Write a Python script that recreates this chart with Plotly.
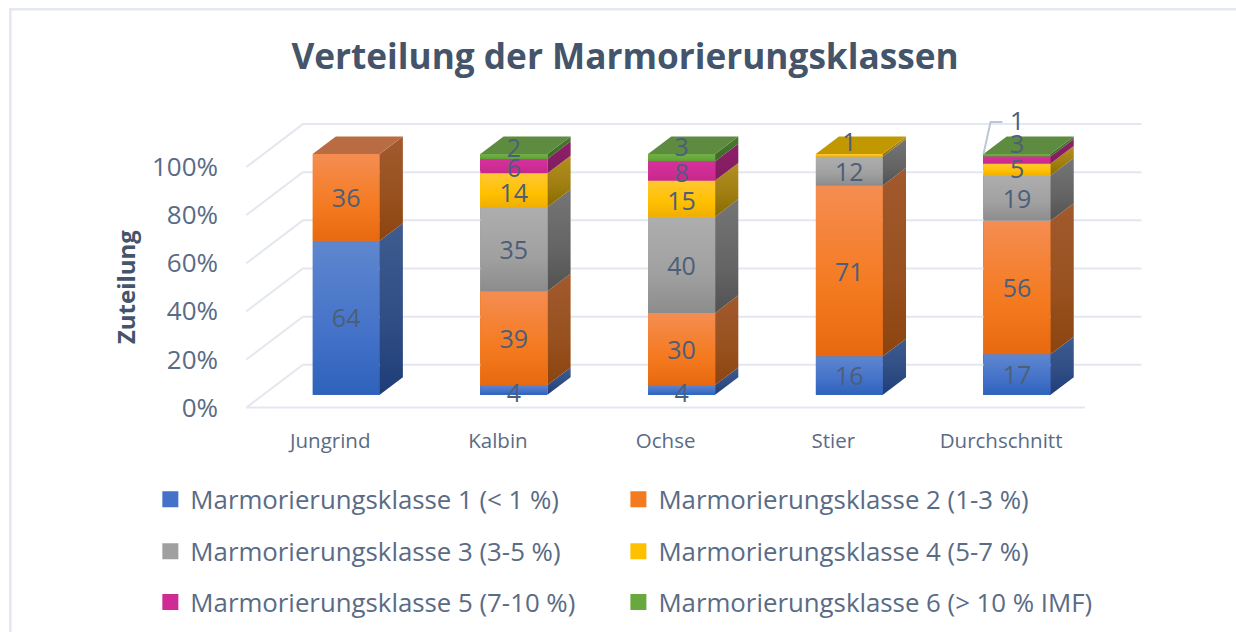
import plotly.graph_objects as go

# ---------- data ----------
categories = ["Jungrind", "Kalbin", "Ochse", "Stier", "Durchschnitt"]
series_names = [
    "Marmorierungsklasse 1 (< 1 %)",
    "Marmorierungsklasse 2 (1-3 %)",
    "Marmorierungsklasse 3 (3-5 %)",
    "Marmorierungsklasse 4 (5-7 %)",
    "Marmorierungsklasse 5 (7-10 %)",
    "Marmorierungsklasse 6 (> 10 % IMF)",
]
klasse1 = [64, 4, 4, 16, 17]
klasse2 = [36, 39, 30, 71, 56]
klasse3 = [0, 35, 40, 12, 19]
klasse4 = [0, 14, 15, 1, 5]
klasse5 = [0, 6, 8, 0, 3]
klasse6 = [0, 2, 3, 0, 1]
y_ticks = [0, 20, 40, 60, 80, 100]
y_tick_labels = ["0%", "20%", "40%", "60%", "80%", "100%"]

series = [klasse1, klasse2, klasse3, klasse4, klasse5, klasse6]

# ---------- styles ----------
W, H = 1236, 632
PX_X, PX_Y = 167.7, 2.41       # pixels per category / per percent
X0_PX, Y0_PX = 246.0, 408.0    # pixel position of the front floor corner
XR = [-0.52, 4.87]
YR = [-1.0, 122.0]
ML = X0_PX + (XR[0] + 0.5) * PX_X
MR = W - (X0_PX + (XR[1] + 0.5) * PX_X)
MB = H - Y0_PX + YR[0] * PX_Y
MT = Y0_PX - YR[1] * PX_Y
TXT = "#44546A"
LBL = "#4D5E78"
SOFT = "#5A6B85"
GRID = "#E3E7EF"
FONT = "Open Sans"
front_cols = [("#5F87CF", "#4472C9", "#2E62BB"), ("#F58D52", "#F47A20", "#E8690F"),
              ("#AEAEAE", "#A0A0A0", "#8C8C8C"), ("#FFC833", "#FFC000", "#F0AE00"),
              ("#D6309C", "#CE2C94", "#C7288D"), ("#70B043", "#68A83C", "#5E9F35")]
side_cols = [("#3F5C90", "#2F4C84", "#1E3D78"), ("#A25A2E", "#97501E", "#8C440F"),
             ("#757575", "#646464", "#525252"), ("#B48F22", "#9F7D10", "#886A00"),
             ("#8E2069", "#861E63", "#7F1C5E"), ("#47772F", "#41702B", "#3B6827")]
top_cols = ["#3F5F98", "#B96B41", "#8A8A8A", "#C29800", "#A0207A", "#5D8B3F"]

# projection of the pseudo-3D box: depth 1 = back wall
DX, DY = 0.337, 17.8
D_FRONT, D_BACK = 0.30, 0.71
BAR_W = 0.40
BAR_SHIFT = -0.006
LABEL_SHIFT_X = -0.006
LABEL_SHIFT_Y = -1.45


def proj(x, v, d):
    return x + d * DX, v + d * DY


def poly(pts):
    xs, ys = zip(*pts)
    return list(xs) + [xs[0]], list(ys) + [ys[0]]


def px_x(p):
    return (p - ML) / (W - ML - MR)


def px_y(p):
    return (H - MB - p) / (H - MB - MT)


fig = go.Figure()

# walls / floor grid
grid_x, grid_y = [], []
for t in y_ticks:
    a = proj(-0.5, t, 0)
    b = proj(-0.5, t, 1)
    c = proj(4.5, t, 1)
    grid_x += [a[0], b[0], c[0], None]
    grid_y += [a[1], b[1], c[1], None]
grid_x += [-0.5, 4.5]
grid_y += [0, 0]
fig.add_trace(go.Scatter(x=grid_x, y=grid_y, mode="lines", line=dict(color=GRID, width=2),
                         cliponaxis=False, showlegend=False, hoverinfo="skip"))

totals = [sum(s[i] for s in series) for i in range(len(categories))]
norm = [[s[i] * 100 / totals[i] for i in range(len(categories))] for s in series]
bases = []
for k in range(len(series)):
    bases.append([sum(norm[j][i] for j in range(k)) for i in range(len(categories))])

# real stacked bars (solid), the gradient faces are laid over them
for k, name in enumerate(series_names):
    fig.add_trace(go.Bar(
        x=[i + BAR_SHIFT + D_FRONT * DX for i in range(len(categories))],
        y=norm[k],
        base=[b + D_FRONT * DY for b in bases[k]],
        width=BAR_W,
        marker=dict(color=front_cols[k][1], line=dict(width=0)),
        cliponaxis=False, showlegend=False, hoverinfo="skip",
    ))


def face(pts, cols):
    xs, ys = poly(pts)
    fig.add_trace(go.Scatter(
        x=xs, y=ys, mode="none", fill="toself",
        fillgradient=dict(type="vertical",
                          colorscale=[[0, cols[2]], [0.4, cols[1]], [1, cols[0]]]),
        cliponaxis=False, showlegend=False, hoverinfo="skip"))


for i in range(len(categories)):
    topmost = max(k for k in range(len(series)) if norm[k][i] > 0)
    for k in range(len(series)):
        if norm[k][i] <= 0:
            continue
        lo, hi = bases[k][i], bases[k][i] + norm[k][i]
        xl, xr = i + BAR_SHIFT - BAR_W / 2, i + BAR_SHIFT + BAR_W / 2
        # front
        face([proj(xl, lo, D_FRONT), proj(xr, lo, D_FRONT), proj(xr, hi, D_FRONT), proj(xl, hi, D_FRONT)],
             front_cols[k])
        # side
        face([proj(xr, lo, D_FRONT), proj(xr, lo, D_BACK), proj(xr, hi, D_BACK), proj(xr, hi, D_FRONT)],
             side_cols[k])
        # top cap
        if k == topmost:
            face([proj(xl, hi, D_FRONT), proj(xr, hi, D_FRONT), proj(xr, hi, D_BACK), proj(xl, hi, D_BACK)],
                 (top_cols[k], top_cols[k], top_cols[k]))

# hand-moved labels in the reference (percentage points on the value axis)
nudge = {(1, 5): 3.9, (1, 4): -0.4, (1, 3): -0.9, (2, 5): 4.9, (2, 4): -0.5, (2, 3): -0.5,
         (3, 3): 6.0, (4, 5): 14.4, (4, 4): 7.0, (4, 3): 0.5, (1, 0): -0.8, (2, 0): -0.8}
lx, ly, lt = [], [], []
for k in range(len(series)):
    for i in range(len(categories)):
        if series[k][i] > 0:
            x, y = proj(i, bases[k][i] + norm[k][i] / 2, D_FRONT)
            lx.append(x + LABEL_SHIFT_X)
            ly.append(y + LABEL_SHIFT_Y + nudge.get((i, k), 0))
            lt.append(str(series[k][i]))

# leader line of the small "1" label
i_d = 4
a = proj(i_d + BAR_SHIFT - BAR_W / 2, bases[5][i_d] + norm[5][i_d], D_FRONT)
b = (a[0] + 0.042, 118.7)
c = (a[0] + 0.113, b[1])
fig.add_trace(go.Scatter(x=[a[0], b[0], c[0]], y=[a[1], b[1], c[1]], mode="lines",
                         line=dict(color="#BCC6D6", width=2), cliponaxis=False,
                         showlegend=False, hoverinfo="skip"))

fig.add_trace(go.Scatter(x=lx, y=ly, mode="text", text=lt, textposition="middle center",
                         textfont=dict(family=FONT, size=25, color=LBL), cliponaxis=False,
                         showlegend=False, hoverinfo="skip"))

# legend: two columns, three rows, one legend box per entry
row_px = [500, 552, 603]
col_px = [150, 618]
legend_ids = ["legend", "legend2", "legend3", "legend4", "legend5", "legend6"]
legend_layout = {}
for k, name in enumerate(series_names):
    fig.add_trace(go.Scatter(
        x=[None], y=[None], mode="markers", name=name,
        marker=dict(symbol="square", size=16, color=front_cols[k][1]),
        legend=legend_ids[k], showlegend=True, hoverinfo="skip"))
    legend_layout[legend_ids[k]] = dict(
        x=px_x(col_px[k % 2]), xanchor="left", y=px_y(row_px[k // 2]), yanchor="middle",
        bgcolor="rgba(0,0,0,0)", font=dict(family=FONT, size=25.8, color=SOFT))

fig.update_layout(
    width=W, height=H,
    autosize=False,
    margin=dict(l=ML, r=MR, t=MT, b=MB, pad=0, autoexpand=False),
    paper_bgcolor="white", plot_bgcolor="rgba(0,0,0,0)",
    barmode="overlay", bargap=0,
    title=dict(text="<b>Verteilung der Marmorierungsklassen</b>", xref="container", yref="container",
               x=625 / W, xanchor="center", y=1 - 57 / H, yanchor="middle",
               font=dict(family=FONT, size=35.2, color=TXT)),
    xaxis=dict(range=XR, tickmode="array", tickvals=list(range(len(categories))),
               ticktext=categories, showgrid=False, zeroline=False, showline=False, ticks="",
               ticklabelstandoff=16, tickfont=dict(family=FONT, size=20.5, color=SOFT)),
    yaxis=dict(range=YR, tickmode="array", tickvals=y_ticks, ticktext=y_tick_labels,
               showgrid=False, zeroline=False, showline=False, ticks="",
               ticklabelstandoff=24, tickfont=dict(family=FONT, size=26, color=SOFT)),
    annotations=[dict(text="<b>Zuteilung</b>", xref="paper", yref="paper", x=px_x(125), y=px_y(287),
                      xanchor="center", yanchor="middle", textangle=-90, showarrow=False,
                      font=dict(family=FONT, size=24, color=TXT))],
    shapes=[dict(type="path", xref="paper", yref="paper", layer="below",
                 path=f"M {px_x(10)} {px_y(640)} L {px_x(10)} {px_y(9)} L {px_x(1240)} {px_y(9)}",
                 line=dict(color=GRID, width=2.5))],
    **legend_layout,
)

fig.write_html("out.html", config={"displayModeBar": False},
               post_script="document.body.style.margin='0';document.documentElement.style.overflow='hidden';")
